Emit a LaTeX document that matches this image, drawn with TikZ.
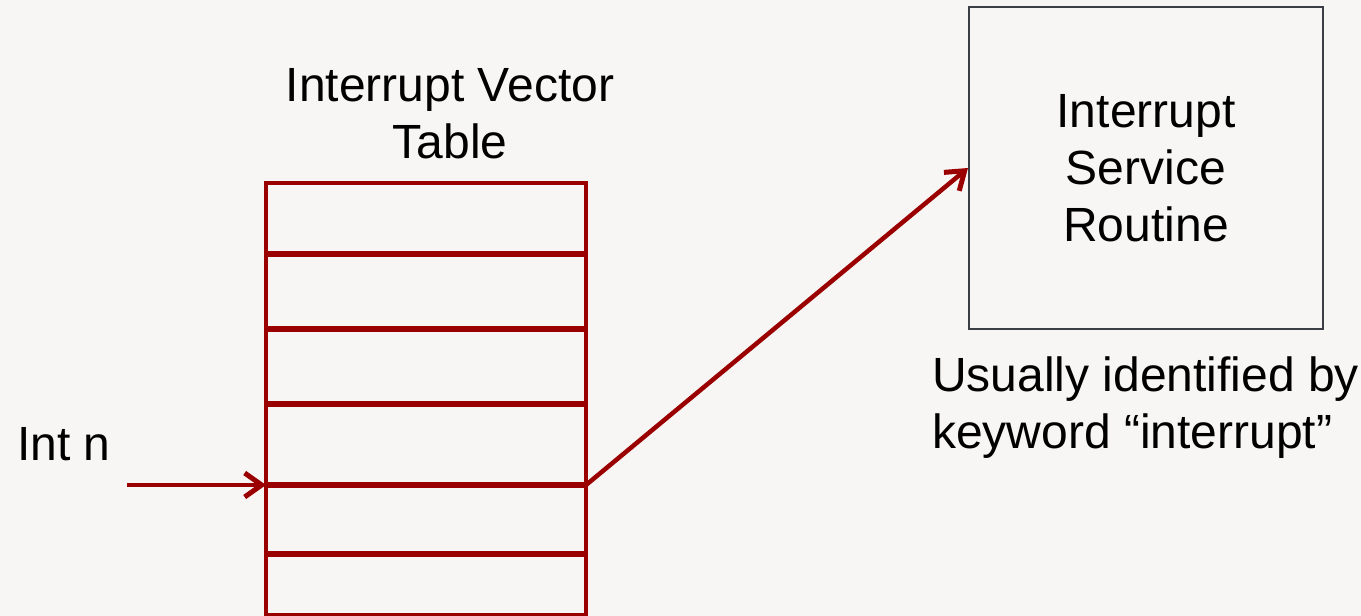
\documentclass[tikz,border=0pt]{standalone}
\usepackage{fontspec}
\setmainfont{Liberation Sans}
\usetikzlibrary{arrows.meta,positioning}

\definecolor{tablered}{RGB}{155,0,0}
\definecolor{boxgray}{RGB}{60,62,70}
\definecolor{paper}{RGB}{247,246,244}

\begin{document}
\begin{tikzpicture}[
      x=1pt, y=-1pt,
      >={Straight Barb[length=17pt,width=24pt,line width=5pt]},
      big text/.style={font=\fontsize{48}{57}\selectfont, inner sep=0pt},
      table box/.style={draw=tablered, line width=3.5pt, minimum width=320pt, minimum height=432pt, inner sep=0pt},
      divider/.style={draw=tablered, line width=6pt},
      isr box/.style={draw=boxgray, line width=2pt, minimum width=354pt, minimum height=322pt, align=center, big text},
      red arrow/.style={->, draw=tablered, line width=4.5pt}
    ]
    \fill[paper] (0,0) rectangle (1361,616);
    \useasboundingbox (0,0) rectangle (1361,616);

    % Vector table
    \node (ivt) [table box] at (426,399) {};
    \node (ivttitle) [big text, align=center, above=22pt of ivt, xshift=24pt] {Interrupt Vector\\Table};
    \foreach \y in {254,329,404,485,554}
      \draw[divider] (ivt.west |- 0,\y) -- (ivt.east |- 0,\y);

    % Service routine
    \node (isr) [isr box] at (1146,168) {Interrupt\\Service\\Routine};
    \node (note) [big text, align=left, anchor=north west] at (932,357) {Usually identified by\\keyword \textquotedblleft interrupt\textquotedblright};

    % Interrupt number
    \node (intn) [big text, anchor=base west] at (17,460) {Int n};
    \coordinate (intsrc) at (127,485);
    \coordinate (slotL) at (266,485);
    \coordinate (slotR) at (586,485);

    \draw[red arrow] (intsrc) -- (slotL);
    \draw[red arrow] (slotR) -- (isr.west);
  \end{tikzpicture}
\end{document}
